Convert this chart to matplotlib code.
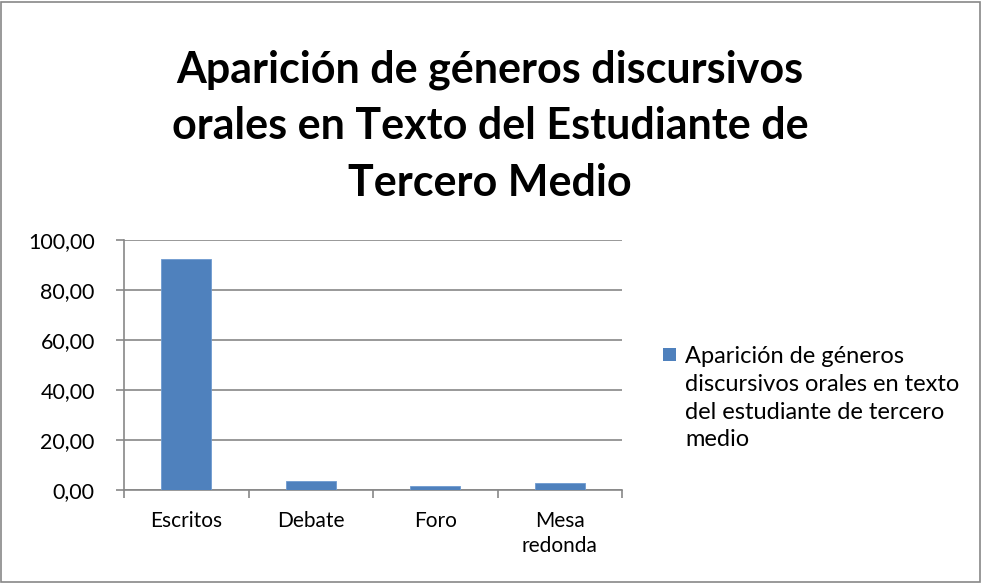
import numpy as np
import matplotlib.pyplot as plt
from matplotlib.patches import Rectangle

categorias = ['Escritos', 'Debate', 'Foro', 'Mesa\nredonda']
valores = [92.3, 3.8, 1.5, 2.9]
serie = 'Aparición de géneros\ndiscursivos orales en texto\ndel estudiante de tercero\nmedio'
titulo = 'Aparición de géneros discursivos\norales en Texto del Estudiante de\nTercero Medio'

plt.rcParams['font.family'] = ['Lato', 'DejaVu Sans']
gris = '#878787'
azul = '#4f81bd'

fig = plt.figure(figsize=(9.82, 5.83), dpi=100)
fig.patches.append(Rectangle((0.001, 0.002), 0.997, 0.995, transform=fig.transFigure,
                             fill=False, edgecolor=gris, linewidth=1.2))
ax = fig.add_axes([124/982, 1-490/583, (622-124)/982, 250/583])

x = np.arange(len(categorias))
ax.bar(x, valores, width=0.4, color=azul, edgecolor='#6f9bd0', linewidth=0.6, zorder=3)
ax.set_xlim(-0.5, len(categorias)-0.5)
ax.set_ylim(0, 100)
yt = np.arange(0, 101, 20)
ax.set_yticks(yt)
ax.set_yticklabels([('%.2f' % v).replace('.', ',') for v in yt], fontsize=15.5)
ax.yaxis.grid(True, color=gris, linewidth=1.2, zorder=0)
ax.set_xticks(np.arange(-0.5, len(categorias), 1))
ax.set_xticklabels([])
ax.set_xticks(x, minor=True)
ax.set_xticklabels(categorias, minor=True, fontsize=15, linespacing=1.35)
ax.tick_params(axis='x', which='major', length=6, color=gris, width=1.2)
ax.tick_params(axis='x', which='minor', length=0, pad=15)
ax.tick_params(axis='y', length=6, color=gris, width=1.2, pad=15)
for s in ['top', 'right']:
    ax.spines[s].set_visible(False)
for s in ['left', 'bottom']:
    ax.spines[s].set_color(gris)
    ax.spines[s].set_linewidth(1.2)

fig.text(490/982, 1-126/583, titulo, ha='center', va='center', fontsize=31,
         fontweight='bold', linespacing=1.5)

fig.patches.append(Rectangle((663/982, 1-361/583), 13/982, 13/583, transform=fig.transFigure,
                             facecolor=azul, edgecolor='none'))
fig.text(685/982, 1-346/583, serie, ha='left', va='top', fontsize=17, linespacing=1.4)

fig.savefig('out.png', dpi=100)
